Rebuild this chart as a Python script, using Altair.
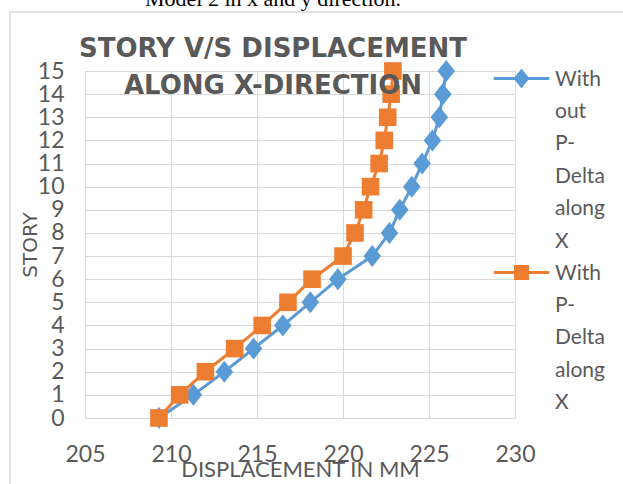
import altair as alt
import pandas as pd

# ---- data ----
stories = list(range(16))
disp_without_pdelta = [209.3, 211.3, 213.1, 214.8, 216.5, 218.1, 219.7, 221.7,
                       222.7, 223.3, 224.0, 224.6, 225.2, 225.6, 225.8, 226.0]
disp_with_pdelta = [209.3, 210.5, 212.0, 213.7, 215.3, 216.8, 218.2, 220.0,
                    220.7, 221.2, 221.6, 222.1, 222.4, 222.6, 222.8, 222.9]
series_names = ["With out P-Delta along X", "With P-Delta along X"]
x_ticks = [205, 210, 215, 220, 225, 230]
y_ticks = list(range(16))
caption = "Model 2 in x and y direction."
chart_title = ["STORY V/S DISPLACEMENT", "ALONG X-DIRECTION"]

BLUE = "#5B9BD5"
ORANGE = "#ED7D31"
GRID = "#D9D9D9"
TEXT = "#595959"

rows = []
for name, vals in zip(series_names, [disp_without_pdelta, disp_with_pdelta]):
    for s, v in zip(stories, vals):
        rows.append({"series": name, "story": s, "disp": v})
df = pd.DataFrame(rows)

# marker shapes for the plotted points
diamond_plain = "M0,-1L0.8,0L0,1L-0.8,0Z"
square_plain = "M-0.8,-0.8H0.8V0.8H-0.8Z"
# legend keys: line segment + marker (nudged down to sit on the first label line)
diamond_key = "M-3.7,1.33H3.7M0,0.33L0.8,1.33L0,2.33L-0.8,1.33Z"
square_key = "M-3.7,1.33H3.7M-0.8,0.53H0.8V2.13H-0.8Z"

legend = alt.Legend(
    title=None, orient="none", legendX=426, legendY=-13, padding=0, rowPadding=0,
    labelFont="Lato", labelFontSize=21, labelColor=TEXT, labelBaseline="top",
    labelOffset=23, labelLimit=200,
    labelExpr="split(replace(datum.label, '-', '- '), ' ')",
    symbolSize=225, symbolStrokeWidth=3,
)

color_scale = alt.Scale(domain=series_names, range=[BLUE, ORANGE])
color_leg = alt.Color("series:N", scale=color_scale, legend=legend)
shape_leg = alt.Shape("series:N", scale=alt.Scale(domain=series_names, range=[diamond_key, square_key]),
                      legend=legend)

x = alt.X("disp:Q",
          scale=alt.Scale(domain=[205, 230], nice=False, zero=False),
          axis=alt.Axis(values=x_ticks, title="DISPLACEMENT IN MM", grid=True, gridColor=GRID,
                        gridWidth=1, domain=False, ticks=False, tickSize=0, labelFlush=False,
                        labelFont="Lato", labelFontSize=23, labelColor=TEXT, labelPadding=25,
                        titleFont="Lato", titleFontSize=22, titleFontWeight="normal",
                        titleColor=TEXT, titlePadding=-7))
y = alt.Y("story:Q",
          scale=alt.Scale(domain=[0, 15], nice=False, zero=False),
          axis=alt.Axis(values=y_ticks, title="STORY", grid=True, gridColor=GRID, gridWidth=1,
                        domain=False, ticks=False, tickSize=0, labelFlush=False,
                        labelFont="Lato", labelFontSize=23, labelColor=TEXT, labelPadding=21,
                        titleFont="DejaVu Sans", titleFontSize=20, titleFontWeight="normal",
                        titleColor=TEXT, titlePadding=-3))

border = alt.Chart(pd.DataFrame({"k": [0]})).mark_rect(
    fillOpacity=0, stroke=GRID, strokeWidth=1.5
).encode(x=alt.value(-75), x2=alt.value(560), y=alt.value(-59), y2=alt.value(430))

base = alt.Chart(df)
lines = base.mark_line(strokeWidth=3).encode(
    x=x, y=y, color=color_leg, order=alt.Order("story:Q"))
pts_without = base.transform_filter(alt.datum.series == series_names[0]).mark_point(
    filled=True, opacity=1, size=484, shape=diamond_plain).encode(x=x, y=y, color=color_leg)
pts_with = base.transform_filter(alt.datum.series == series_names[1]).mark_point(
    filled=True, opacity=1, size=484, shape=square_plain).encode(x=x, y=y, color=color_leg)
# legend-key layer (draws no rows itself): line + marker keys for the legend
legend_layer = base.transform_filter("false").mark_line(
    strokeWidth=3, point=alt.OverlayMarkDef(filled=True)
).encode(x=x, y=y, color=color_leg, shape=shape_leg)

chart = alt.layer(border, lines, pts_without, pts_with, legend_layer).properties(
    width=430, height=347,
    autosize="none",
    padding={"left": 85, "top": 71, "right": 108, "bottom": 66},
    title=alt.Title(
        text=caption, subtitle=chart_title, anchor="middle", frame="group",
        font="Liberation Serif", fontSize=22, fontWeight="normal", color="black",
        subtitleFont="DejaVu Sans", subtitleFontSize=26, subtitleFontWeight="bold",
        subtitleColor=TEXT, subtitleLineHeight=37, subtitlePadding=25,
        offset=-89, dx=-27, zindex=1),
).configure_view(stroke=None).configure(
    background="white",
    style={"guide-label": {"lineHeight": 32.4}},
)

chart.save("out.html", embed_options={"renderer": "svg", "actions": False})
